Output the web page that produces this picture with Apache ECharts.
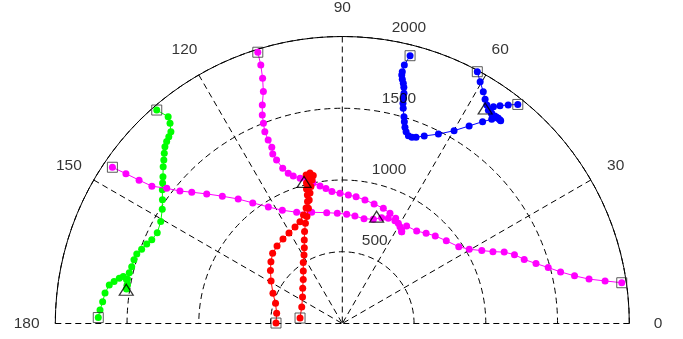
<!DOCTYPE html>
<html><head><meta charset="utf-8">
<script src="https://cdn.jsdelivr.net/npm/echarts@6/dist/echarts.min.js"></script>
<style>html,body{margin:0;padding:0;background:#fff}#c{width:683px;height:339px}</style>
</head><body><div id="c"></div>
<script>
// ---- data: [radius, angle(deg)] ----
const angleTicks = [0, 30, 60, 90, 120, 150, 180];
const angleLabels = ['0', '30', '60', '90', '120', '150', '180'];
const ringValues = [500, 1000, 1500, 2000];
const ringLabels = ['500', '1000', '1500', '2000'];

const blue1 = [[1925,75.8],[1852,76.5],[1804,76.6],[1781,76.55],[1753,76.2],[1727,75.75],[1701,75.4],[1661,75.0],[1626,74.8],[1592,74.6],[1559,74.2],[1504,73.4],[1471,72.9],[1436,72.3],[1408,71.6],[1387,70.6],[1386,69.5],[1396,68.4],[1426,66.4],[1480,63.1],[1553,59.9],[1636,57.3],[1713,55.2],[1763,53.8],[1795,53.2],[1794,52.2]];
const blue2 = [[1991,61.8],[1939,60.3],[1891,58.7],[1852,57.5],[1825,56.5],[1802,55.6],[1793,54.5],[1791,53.6],[1796,52.8],[1793,52.0]];
const blue3 = [[1956,51.3],[1912,52.8],[1874,54.1],[1841,55.1],[1809,55.3],[1797,54.6],[1795,53.7],[1796,52.8]];
const magenta1 = [[1980,107.3],[1889,107.5],[1797,108.0],[1707,108.8],[1622,110.1],[1556,111.0],[1500,111.5],[1441,112.0],[1379,112.0],[1323,111.8],[1277,112.3],[1228,111.9],[1159,111.0],[1112,109.8],[1083,108.4],[1054,106.2],[1030,103.9],[1000,101.8],[971,99.2],[948,96.9],[923,94.5],[908,91.0],[896,87.3],[889,83.8],[875,79.6],[862,75.1],[852,70.4],[837,66.6],[822,63.1],[800,60.8],[772,57.6]];
const magenta2 = [[1937,145.8],[1834,145.3],[1733,144.8],[1636,144.2],[1544,142.4],[1460,140.8],[1392,138.9],[1307,136.3],[1219,133.3],[1131,129.9],[1047,126.6],[962,122.4],[893,117.9],[838,112.3],[804,105.4],[780,98.0],[769,92.6],[762,87.7],[754,83.3],[746,78.3],[758,73.4],[787,69.6],[800,66.4],[805,62.9],[785,59.2],[762,57.1]];
const magenta3 = [[1968,8.3],[1855,9.2],[1747,10.2],[1652,11.6],[1563,13.3],[1487,15.2],[1413,17.2],[1344,19.4],[1292,21.8],[1233,23.8],[1163,25.5],[1097,27.6],[1025,30.3],[972,33.4],[926,38.5],[890,43.3],[858,47.1],[827,51.2],[814,56.6],[762,57.1]];
const green1 = [[1971,131.0],[1884,130.1],[1841,130.7],[1792,131.8],[1776,132.9],[1762,134.0],[1745,135.1],[1716,136.3],[1687,137.5],[1659,138.8],[1615,140.7],[1589,142.0],[1562,143.4],[1521,145.5],[1486,147.6],[1451,150.7],[1436,153.9],[1450,156.3],[1471,157.9],[1491,159.7],[1512,161.3],[1518,163.0],[1520,164.9],[1526,166.6],[1529,168.3],[1524,169.9]];
const green2 = [[1701,178.6],[1691,176.8],[1677,174.8],[1667,172.7],[1646,170.6],[1617,169.6],[1586,168.5],[1561,167.9],[1535,168.5],[1521,169.8],[1523,170.9]];
const red1 = [[462,179.6],[463,171.2],[486,163.2],[527,156.5],[578,149.2],[622,143.6],[658,139.1],[689,134.8],[706,130.1],[719,125.1],[732,120.5],[749,116.1],[768,112.6],[803,109.7],[844,107.4],[884,105.9],[928,105.2],[970,104.9],[1010,104.3],[1047,102.8],[1065,103.7]];
const red2 = [[297,172.6],[305,157.9],[333,146.3],[369,138.4],[410,131.6],[456,126.6],[505,122.6],[547,119.2],[591,116.6],[639,114.5],[693,112.3],[744,110.2],[785,108.3],[837,106.4],[891,105.0],[937,103.9],[979,102.9],[1022,101.9],[1051,101.1],[1073,102.1]];
const triangles = [[1799,56.4],[782,72.2],[1022,105.1],[1524,171.1]];

// ---- chart ----
const chart = echarts.init(document.getElementById('c'), null, {renderer: 'canvas'});
const FONT = '"Liberation Sans", Arial, Helvetica, sans-serif';
const RMAX = 2000;
const gridLine = {color: '#000', width: 1, type: [6, 4]};
const textStyle = {color: '#000', fontSize: 15.5, fontFamily: FONT};

const groups = [
  {color: '#00ff00', tracks: [green1, green2]},
  {color: '#ff00ff', tracks: [magenta1, magenta2, magenta3]},
  {color: '#ff0000', tracks: [red1, red2]},
  {color: '#0000ff', tracks: [blue1, blue2, blue3]}
];
const series = [];
const squares = [];
groups.forEach((g, gi) => {
  g.tracks.forEach(t => {
    series.push({
      type: 'line', coordinateSystem: 'polar', data: t, clip: false,
      symbol: 'circle', symbolSize: 7, showAllSymbol: true,
      lineStyle: {color: g.color, width: 1}, itemStyle: {color: g.color},
      z: 3 + gi, silent: true
    });
    squares.push(t[0]);
  });
});
series.push({
  type: 'scatter', coordinateSystem: 'polar', data: squares, clip: false,
  symbol: 'rect', symbolSize: 10,
  itemStyle: {color: 'rgba(0,0,0,0)', borderColor: '#333', borderWidth: 1}, z: 10, silent: true
});
series.push({
  type: 'scatter', coordinateSystem: 'polar', data: triangles, clip: false,
  symbol: 'triangle', symbolSize: [14, 11],
  itemStyle: {color: 'rgba(0,0,0,0)', borderColor: '#000', borderWidth: 1.2}, z: 10, silent: true
});
// ring labels (MATLAB style: at 82 deg, r + rinc/20, left/bottom aligned)
series.push({
  type: 'scatter', coordinateSystem: 'polar', clip: false,
  data: ringValues.map((v, i) => ({value: [v + 25, 82], name: ringLabels[i]})),
  symbolSize: 0, z: 11, silent: true,
  label: Object.assign({show: true, position: 'right', distance: 9, verticalAlign: 'bottom',
    formatter: p => p.name}, textStyle)
});
// angle labels (MATLAB style: centred at 1.1 * rmax)
series.push({
  type: 'scatter', coordinateSystem: 'polar', clip: false,
  data: angleTicks.map((a, i) => ({value: [RMAX * 1.1, a], name: angleLabels[i]})),
  symbolSize: 0, z: 11, silent: true,
  label: Object.assign({show: true, position: 'inside', align: 'center', verticalAlign: 'middle',
    formatter: p => p.name}, textStyle)
});

chart.setOption({
  animation: false,
  polar: {center: [342.3, 323.5], radius: 287},
  angleAxis: {
    type: 'value', min: 0, max: 180, interval: 30,
    startAngle: 0, endAngle: 180, clockwise: false,
    axisLine: {show: true, lineStyle: {color: '#000', width: 1}},
    axisTick: {show: false},
    axisLabel: {show: false},
    splitLine: {show: true, lineStyle: gridLine}
  },
  radiusAxis: {
    type: 'value', min: 0, max: RMAX, interval: 500,
    axisLine: {show: false}, axisTick: {show: false}, axisLabel: {show: false},
    splitLine: {show: true, lineStyle: gridLine}
  },
  series: series
});
</script></body></html>
